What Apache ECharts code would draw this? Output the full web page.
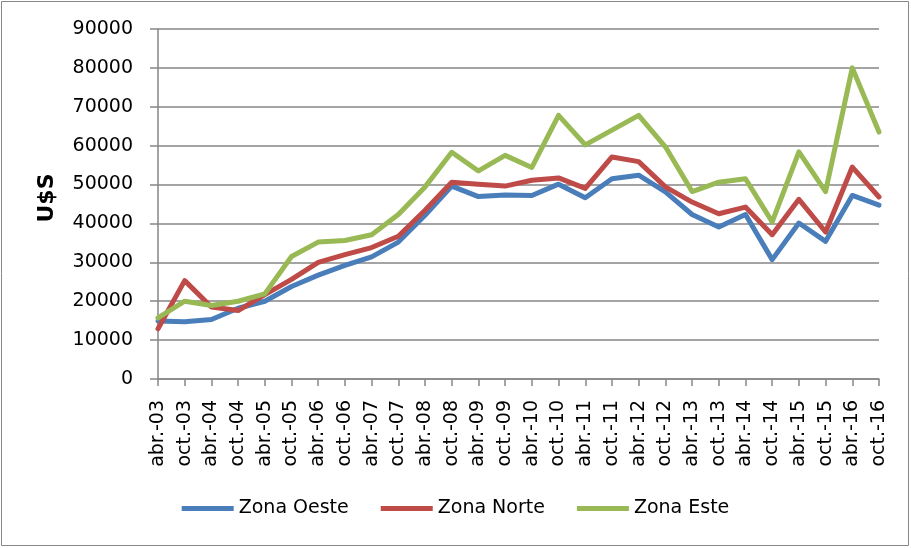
<!DOCTYPE html>
<html>
<head>
<meta charset="utf-8">
<script src="https://cdn.jsdelivr.net/npm/echarts@6/dist/echarts.min.js"></script>
<style>
html,body{margin:0;padding:0;background:#fff;}
#chart{width:911px;height:548px;}
</style>
</head>
<body>
<div id="chart"></div>
<script>
var categories = ['abr.-03','oct.-03','abr.-04','oct.-04','abr.-05','oct.-05','abr.-06','oct.-06','abr.-07','oct.-07',
  'abr.-08','oct.-08','abr.-09','oct.-09','abr.-10','oct.-10','abr.-11','oct.-11','abr.-12','oct.-12',
  'abr.-13','oct.-13','abr.-14','oct.-14','abr.-15','oct.-15','abr.-16','oct.-16'];
var zonaOeste = [14900,14700,15300,18200,20000,23800,26700,29200,31400,35200,42100,49600,46900,47300,47200,50100,46600,51500,52400,48100,42300,39100,42300,30700,40100,35400,47200,44700];
var zonaNorte = [12900,25300,18500,17600,21700,25600,30000,32000,33800,36700,43400,50600,50100,49600,51100,51700,49000,57100,55900,49400,45500,42500,44200,37100,46200,37800,54500,46800];
var zonaEste  = [15700,20000,18900,20000,21900,31500,35200,35600,37100,42300,49400,58300,53500,57500,54400,67800,60200,64000,67800,59700,48200,50600,51500,40400,58400,48200,80000,63500];
var seriesNames = ['Zona Oeste','Zona Norte','Zona Este'];
var colors = ['#4A7EBB','#BE4B48','#98B954'];

var chart = echarts.init(document.getElementById('chart'));
var font = 'DejaVu Sans';
function mk(name, data, color){
  return {name:name, type:'line', data:data, symbol:'none', smooth:false,
    lineStyle:{width:5, color:color, cap:'round', join:'round'}, itemStyle:{color:color}};
}
chart.setOption({
  animation:false,
  color: colors,
  grid:{left:158, right:32, top:29, bottom:169, containLabel:false},
  graphic:[
    {type:'rect', shape:{x:1.5, y:1.5, width:907, height:544}, style:{fill:'none', stroke:'#888', lineWidth:1}},
    {type:'text', x:47, y:198, rotation:Math.PI/2, style:{text:'U$S', font:'bold 22px "DejaVu Sans"', fill:'#000', align:'center', verticalAlign:'middle'}}
  ],
  legend:{
    data: seriesNames, bottom:25, left:'center', icon:'rect', itemWidth:52, itemHeight:5, itemGap:32,
    textStyle:{fontFamily:font, fontSize:19, color:'#000', padding:[0,0,0,0]}
  },
  xAxis:{
    type:'category', data:categories, boundaryGap:false,
    axisLine:{lineStyle:{color:'#868686', width:1.5}},
    axisTick:{show:true, alignWithLabel:true, length:7, lineStyle:{color:'#868686', width:1.5}},
    axisLabel:{interval:0, rotate:90, margin:21, fontFamily:font, fontSize:19, color:'#000'},
    splitLine:{show:false}
  },
  yAxis:{
    type:'value', min:0, max:90000, interval:10000,
    axisLine:{show:true, lineStyle:{color:'#868686', width:1.5}},
    axisTick:{show:true, length:8, lineStyle:{color:'#868686', width:1.5}},
    axisLabel:{margin:25, fontFamily:font, fontSize:19, color:'#000', formatter:function(v){return String(v);}},
    splitLine:{show:true, lineStyle:{color:'#868686', width:1.6}}
  },
  series:[mk(seriesNames[0], zonaOeste, colors[0]), mk(seriesNames[1], zonaNorte, colors[1]), mk(seriesNames[2], zonaEste, colors[2])]
});
</script>
</body>
</html>
